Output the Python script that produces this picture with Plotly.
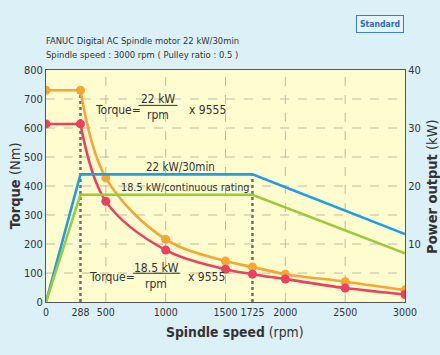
import plotly.graph_objects as go

# ---- data ----
speed_pts = [0, 288, 500, 1000, 1500, 1725, 2000, 2500, 3000]
torque_30min = [730, 730, 428, 216, 141, 121, 96, 70, 41]
torque_cont = [614, 614, 347, 179, 113, 96, 79, 48, 26]

power_speed = [0, 288, 1725, 3000]
power_30min = [0, 22, 22, 11.7]
power_cont = [0, 18.5, 18.5, 8.4]

x_ticks = [0, 288, 500, 1000, 1500, 1725, 2000, 2500, 3000]
x_grid = [500, 1000, 1500, 2000, 2500]
y_grid = [100, 200, 300, 400, 500, 600, 700]

FONT = "DejaVu Sans Condensed, Liberation Sans Narrow, Arial Narrow, Liberation Sans, sans-serif"
ORANGE = "#f5a634"
RED = "#ee3f5f"
BLUE = "#1d9fe6"
GREEN = "#9bcb35"
TXT = "#333333"
BG = "#dcf0f8"

fig = go.Figure()

fig.add_trace(go.Scatter(x=power_speed, y=power_30min, mode="lines", yaxis="y2",
                         line=dict(color=BLUE, width=2.6), hoverinfo="skip", showlegend=False))
fig.add_trace(go.Scatter(x=power_speed, y=power_cont, mode="lines", yaxis="y2",
                         line=dict(color=GREEN, width=2.6), hoverinfo="skip", showlegend=False))

for vals, col in [(torque_30min, ORANGE), (torque_cont, RED)]:
    fig.add_trace(go.Scatter(x=speed_pts[:2], y=vals[:2], mode="lines",
                             line=dict(color=col, width=2.6), showlegend=False))
    fig.add_trace(go.Scatter(x=speed_pts[1:], y=vals[1:], mode="lines",
                             line=dict(color=col, width=2.6, shape="spline", smoothing=1.0),
                             showlegend=False))
    fig.add_trace(go.Scatter(x=speed_pts, y=vals, mode="markers",
                             marker=dict(color=col, size=9), showlegend=False))

shapes = []
for xv in x_grid:
    shapes.append(dict(type="line", xref="x", yref="y", x0=xv, x1=xv, y0=0, y1=800,
                       line=dict(color="#bdbca6", width=1, dash="dash"), layer="below"))
for yv in y_grid:
    shapes.append(dict(type="line", xref="x", yref="y", x0=0, x1=3000, y0=yv, y1=yv,
                       line=dict(color="#bdbca6", width=1, dash="dash"), layer="below"))
shapes.append(dict(type="line", xref="x", yref="y", x0=288, x1=288, y0=0, y1=730,
                   line=dict(color="#6f6f6f", width=2.5, dash="dot"), layer="below"))
shapes.append(dict(type="line", xref="x", yref="y", x0=1725, x1=1725, y0=0, y1=440,
                   line=dict(color="#6f6f6f", width=2.5, dash="dot"), layer="below"))
shapes.append(dict(type="line", xref="x", yref="y", x0=773, x1=1099, y0=678, y1=678,
                   line=dict(color=TXT, width=1)))
shapes.append(dict(type="line", xref="x", yref="y", x0=725, x1=1116, y0=99, y1=99,
                   line=dict(color=TXT, width=1)))

ann = []
def txt(x, y, s, size=12, xanchor="center", color=TXT):
    ann.append(dict(x=x, y=y, xref="x", yref="y", text=s, showarrow=False,
                    xanchor=xanchor, yanchor="middle", font=dict(family=FONT, size=size, color=color)))

txt(1124, 467, "22 kW/30min", size=11.5)
txt(1162, 395, "18.5 kW/continuous rating", size=10.8)
txt(391, 661, "Torque=", xanchor="left")
txt(936, 701, "22 kW")
txt(936, 645, "rpm")
txt(1182, 661, "x 9555", xanchor="left")
txt(341, 87, "Torque=", xanchor="left")
txt(921, 118, "18.5 kW")
txt(921, 62, "rpm")
txt(1166, 87, "x 9555", xanchor="left")

def paper(x, y, s, size, xanchor="left", angle=0, **kw):
    ann.append(dict(x=x, y=y, xref="paper", yref="paper", text=s, showarrow=False,
                    xanchor=xanchor, yanchor="middle", textangle=angle,
                    font=dict(family=FONT, size=size, color=kw.pop("color", TXT)), **kw))

paper(-0.006, 1.129, "FANUC Digital AC Spindle motor 22 kW/30min", 9.4)
paper(-0.006, 1.065, "Spindle speed : 3000 rpm ( Pulley ratio : 0.5 )", 9.4)
paper(0.997, 1.198, "<b>Standard</b>", 8.6, xanchor="right", color="#2f6db5",
      bordercolor="#3b7fc4", borderwidth=1, borderpad=3, bgcolor="#e6f4fa")
paper(0.526, -0.129, "<b>Spindle speed</b> (rpm)", 13.8, xanchor="center")
paper(-0.086, 0.5, "<b>Torque</b> (Nm)", 14.5, xanchor="center", angle=-90)
paper(1.075, 0.5, "<b>Power output</b> (kW)", 14.5, xanchor="center", angle=-90)

fig.update_layout(
    width=440, height=355,
    margin=dict(l=46, r=35, t=70, b=53),
    paper_bgcolor=BG,
    plot_bgcolor="#fffcd0",
    font=dict(family=FONT, size=12, color=TXT),
    shapes=shapes,
    annotations=ann,
    xaxis=dict(range=[0, 3000], tickvals=x_ticks, ticktext=[str(v) for v in x_ticks],
               tickangle=0, showgrid=False, zeroline=False, showline=True, linecolor="#555555",
               linewidth=1, mirror=True, ticks="", automargin=False,
               tickfont=dict(family=FONT, size=10.5, color=TXT)),
    yaxis=dict(range=[0, 800], tickvals=[0, 100, 200, 300, 400, 500, 600, 700, 800],
               showgrid=False, zeroline=False, showline=True, linecolor="#555555", linewidth=1,
               ticks="", automargin=False, tickfont=dict(family=FONT, size=11, color=TXT)),
    yaxis2=dict(range=[0, 40], overlaying="y", side="right", tickvals=[10, 20, 30, 40],
                showgrid=False, zeroline=False, showline=True, linecolor="#555555", linewidth=1,
                ticks="", automargin=False, tickfont=dict(family=FONT, size=11, color=TXT)),
)

fig.write_html("out.html", config={"displayModeBar": False},
               post_script="document.body.style.margin='0';document.body.style.background='%s';" % BG)
